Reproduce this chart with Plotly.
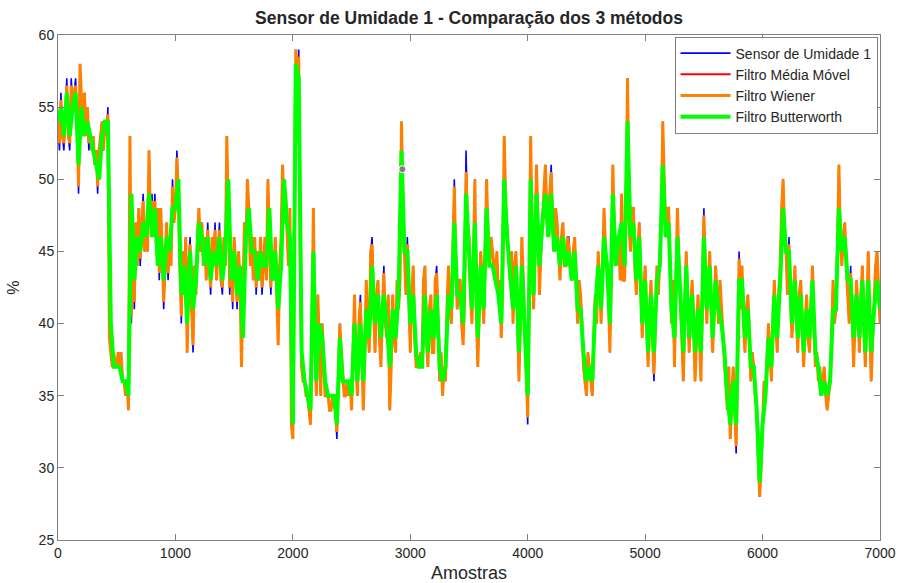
import plotly.graph_objects as go

# Amostras (eixo x)
amostras = [i * 12.5 for i in range(561)]      # sensor e Wiener
amostras_filtro = list(range(0, 7001, 25))      # Média Móvel e Butterworth

sensor = [
    54, 52, 56, 53, 52, 55, 57, 53, 52, 57, 55, 56, 57, 54, 49, 57, 55, 53, 56, 53,
    55, 52, 53, 52, 53, 51, 52, 49, 52, 53, 54, 52, 54, 53, 55, 39, 38, 37, 38, 37,
    37, 38, 37, 38, 36, 36, 35, 36, 34, 53, 40, 46, 41, 47, 44, 48, 44, 47, 49, 45,
    47, 45, 52, 47, 49, 46, 49, 45, 48, 43, 48, 45, 41, 44, 47, 43, 46, 44, 50, 47,
    48, 52, 49, 44, 40, 45, 42, 46, 38, 44, 46, 41, 38, 44, 42, 46, 48, 45, 47, 44,
    46, 43, 47, 44, 42, 46, 44, 47, 43, 45, 47, 43, 42, 46, 44, 53, 46, 42, 45, 41,
    46, 43, 41, 45, 43, 37, 42, 47, 45, 50, 48, 44, 46, 43, 46, 42, 45, 43, 46, 42,
    44, 46, 43, 50, 46, 42, 45, 43, 46, 42, 39, 44, 46, 51, 48, 49, 47, 44, 48, 33,
    32, 50, 59, 56, 59, 45, 37, 36, 36, 35, 35, 34, 33, 40, 48, 38, 35, 42, 38, 35,
    40, 37, 35, 35, 35, 34, 34, 35, 35, 34, 32, 36, 40, 38, 36, 35, 35, 36, 35, 36,
    34, 38, 42, 37, 35, 40, 42, 38, 34, 38, 43, 40, 38, 45, 46, 41, 38, 42, 43, 39,
    37, 41, 44, 40, 39, 42, 34, 37, 42, 39, 38, 43, 41, 43, 54, 48, 45, 42, 46, 41,
    38, 42, 44, 39, 37, 37, 37, 38, 37, 43, 44, 39, 37, 41, 42, 38, 38, 43, 44, 40,
    36, 38, 35, 37, 36, 41, 44, 41, 40, 45, 50, 44, 41, 43, 43, 40, 39, 42, 52, 47,
    46, 42, 40, 44, 50, 41, 37, 41, 45, 43, 40, 45, 50, 46, 44, 46, 45, 44, 43, 45,
    42, 43, 39, 44, 53, 48, 47, 45, 43, 45, 40, 44, 45, 41, 36, 40, 46, 43, 40, 37,
    33, 42, 53, 46, 41, 46, 51, 47, 42, 45, 47, 49, 51, 48, 46, 49, 51, 47, 45, 48,
    47, 45, 43, 46, 47, 44, 44, 46, 46, 44, 43, 45, 46, 43, 40, 43, 42, 40, 37, 36,
    35, 38, 37, 36, 35, 39, 42, 40, 45, 43, 40, 44, 48, 45, 44, 42, 38, 44, 51, 46,
    44, 46, 46, 43, 49, 43, 43, 48, 57, 47, 45, 48, 48, 44, 42, 45, 47, 43, 39, 42,
    44, 40, 37, 41, 43, 39, 36, 40, 44, 42, 44, 47, 54, 49, 46, 48, 48, 44, 40, 43,
    37, 43, 48, 44, 42, 39, 36, 41, 45, 41, 38, 41, 43, 40, 36, 39, 42, 39, 36, 42,
    48, 44, 40, 43, 45, 41, 38, 41, 44, 42, 40, 43, 41, 39, 37, 36, 34, 37, 32, 35,
    37, 34, 31, 38, 45, 41, 44, 40, 38, 41, 42, 39, 36, 38, 37, 35, 34, 31, 28, 30,
    33, 36, 35, 38, 40, 38, 36, 40, 43, 40, 38, 42, 44, 48, 50, 46, 45, 42, 46, 42,
    39, 41, 44, 41, 38, 42, 43, 40, 37, 40, 42, 39, 38, 41, 44, 40, 37, 38, 36, 37,
    35, 36, 37, 35, 34, 35, 36, 39, 43, 40, 41, 45, 51, 46, 44, 46, 47, 44, 42, 40,
    44, 41, 37, 40, 43, 41, 38, 42, 44, 40, 37, 41, 45, 40, 36, 39, 42, 44, 45, 42,
    40,
]

wiener = [
    54, 52.5, 55.5, 53, 52.5, 55, 56.5, 53, 52.5, 56.5, 55, 56, 56.5, 54, 49.5, 58, 55, 53, 56, 53,
    55, 52.5, 53, 52, 53, 51, 52, 49.5, 52, 53, 54, 52, 54, 53, 54.5, 39, 38, 37, 38, 37,
    37, 38, 37, 38, 36, 36, 35, 36, 34, 53, 40.5, 46, 41.5, 47, 44, 48, 44.5, 47, 48.5, 45,
    47, 45, 52, 47, 48.5, 46, 48.5, 45.5, 48, 43.5, 48, 45, 41.5, 44, 47, 43.5, 46, 44, 49.5, 47,
    48, 51.5, 49, 44, 40.5, 45, 42, 46, 38, 44, 45.5, 41, 38.5, 44, 42, 46, 48, 45, 47, 44,
    46, 43, 46.5, 44, 42.5, 46, 44, 46.5, 43, 45, 46.5, 43, 42.5, 46, 44, 53, 46, 42.5, 45, 41.5,
    46, 43, 41.5, 45, 43, 37, 42, 47, 45, 50, 48, 44, 46, 43, 46, 42.5, 45, 43, 46, 42.5,
    44, 46, 43, 50, 46, 42.5, 45, 43, 46, 42.5, 38.5, 44, 46, 51, 48, 49, 47, 44, 48, 33,
    32, 50, 59, 56, 58.5, 45, 37, 36, 36, 35, 35, 34, 33, 40, 48, 38, 35, 42, 38, 35,
    40, 37, 35, 35, 35, 34, 34, 35, 35, 34, 32.5, 36, 40, 38, 36, 35, 35, 36, 35, 36,
    34, 38, 42, 37, 35, 40, 41.5, 38, 34, 38, 43, 40, 38, 45, 45.5, 41, 38, 42, 43, 39,
    37, 41, 43.5, 40, 39, 42, 34, 37, 42, 39, 38, 43, 41, 43, 54, 48, 45, 42, 45.5, 41,
    38, 42, 44, 39, 37, 37, 37, 38, 37, 43, 44, 39, 37, 41, 42, 38, 38, 43, 43.5, 40,
    36, 38, 35, 37, 36, 41, 44, 41, 40, 45, 49.5, 44, 41, 43, 43, 40, 38.5, 42, 50.5, 47,
    46, 42, 40, 44, 50, 41, 37, 41, 45, 43, 40, 45, 50, 46, 44, 46, 45, 44, 43, 45,
    42, 43, 39, 44, 53, 48, 46.5, 45, 43, 45, 40, 44, 45, 41, 36, 40, 46, 43, 40, 37,
    33.5, 42, 53, 46, 41, 46, 51, 47, 42, 45, 47, 49, 51, 48, 46, 49, 50.5, 47, 45, 48,
    47, 45, 43, 46, 47, 44, 44, 46, 45.5, 44, 43, 45, 46, 43, 40, 43, 42, 40, 37, 36,
    35, 38, 37, 36, 35, 39, 42, 40, 45, 43, 40, 44, 48, 45, 44, 42, 38, 44, 51, 46,
    44, 46, 46, 43, 49, 43, 43, 48, 57, 47, 45, 48, 48, 44, 42, 45, 47, 43, 39, 42,
    44, 40, 37, 41, 43, 39, 36.5, 40, 44, 42, 44, 47, 54, 49, 46, 48, 48, 44, 40, 43,
    37, 43, 48, 44, 42, 39, 36, 41, 45, 41, 38, 41, 43, 40, 36, 39, 42, 39, 36, 42,
    47.5, 44, 40, 43, 45, 41, 38, 41, 44, 42, 40, 43, 41, 39, 37, 36, 34, 37, 32, 35,
    37, 34, 31.5, 38, 44.5, 41, 44, 40, 38, 41, 42, 39, 36, 38, 37, 35, 34, 31, 28, 30,
    33, 36, 35, 38, 40, 38, 36, 40, 43, 40, 38, 42, 44, 48, 50, 46, 45, 42, 45.5, 42,
    39, 41, 44, 41, 38, 42, 43, 40, 37, 40, 42, 39, 38, 41, 44, 40, 37, 38, 36, 37,
    35, 36, 37, 35, 34, 35, 36, 39, 43, 40, 41, 45, 51, 46, 44, 46, 47, 44, 42, 40,
    43.5, 41, 37, 40, 43, 41, 38, 42, 44, 40, 37, 41, 45, 40, 36, 39, 42, 44, 45, 42,
    40,
]

media_movel = [
    54, 55, 53, 56, 53, 55, 56, 51, 55, 53, 54, 53, 52, 51, 50, 53, 54, 54, 40, 37,
    37, 37, 36, 36, 35, 49, 43, 46, 45, 47, 46, 49, 46, 48, 44, 46, 43, 46, 45, 48,
    48, 50, 42, 44, 40, 45, 41, 43, 47, 46, 44, 46, 43, 45, 44, 46, 43, 45, 50, 43,
    45, 42, 44, 39, 46, 48, 45, 45, 43, 45, 44, 44, 48, 43, 45, 41, 44, 50, 47, 46,
    33, 58, 57, 38, 36, 35, 34, 45, 36, 40, 39, 36, 35, 35, 35, 33, 39, 36, 36, 36,
    35, 40, 36, 40, 36, 41, 39, 44, 40, 42, 39, 42, 40, 37, 41, 39, 42, 52, 45, 45,
    40, 42, 38, 37, 37, 42, 38, 41, 39, 42, 37, 36, 37, 42, 41, 47, 42, 42, 40, 49,
    45, 41, 47, 39, 44, 41, 48, 44, 44, 43, 42, 40, 50, 46, 43, 41, 44, 38, 44, 40,
    35, 50, 42, 49, 44, 47, 49, 46, 49, 45, 46, 44, 46, 44, 45, 43, 45, 41, 41, 38,
    36, 37, 36, 41, 44, 41, 46, 44, 40, 49, 44, 46, 47, 44, 54, 46, 47, 43, 46, 40,
    43, 38, 42, 38, 43, 44, 51, 46, 47, 41, 39, 46, 42, 38, 44, 39, 42, 38, 41, 38,
    46, 41, 44, 39, 43, 41, 40, 38, 35, 33, 36, 33, 43, 43, 39, 41, 37, 37, 34, 29,
    33, 35, 39, 37, 42, 39, 43, 48, 45, 45, 40, 43, 39, 42, 38, 41, 39, 43, 38, 37,
    35, 36, 35, 36, 41, 41, 48, 45, 46, 43, 43, 39, 42, 39, 43, 38, 43, 38, 41, 43,
    41,
]

butterworth = [
    54, 55, 53, 56, 53, 55, 56, 51, 55, 53, 54, 53, 52, 51, 50, 53, 54, 54, 40, 37,
    37, 37, 36, 36, 35, 49, 43, 46, 45, 47, 46, 49, 46, 48, 44, 46, 43, 46, 45, 48,
    48, 50, 42, 44, 40, 45, 41, 43, 47, 46, 44, 46, 43, 45, 44, 46, 43, 45, 50, 43,
    45, 42, 44, 39, 46, 48, 45, 45, 43, 45, 44, 44, 48, 43, 45, 41, 44, 50, 47, 46,
    33, 58, 57, 38, 36, 35, 34, 45, 36, 40, 39, 36, 35, 35, 35, 33, 39, 36, 36, 36,
    35, 40, 36, 40, 36, 41, 39, 44, 40, 42, 39, 42, 40, 37, 41, 39, 42, 52, 45, 45,
    40, 42, 38, 37, 37, 42, 38, 41, 39, 42, 37, 36, 37, 42, 41, 47, 42, 42, 40, 49,
    45, 41, 47, 39, 44, 41, 48, 44, 44, 43, 42, 40, 50, 46, 43, 41, 44, 38, 44, 40,
    35, 50, 42, 49, 44, 47, 49, 46, 49, 45, 46, 44, 46, 44, 45, 43, 45, 41, 41, 38,
    36, 37, 36, 41, 44, 41, 46, 44, 40, 49, 44, 46, 47, 44, 54, 46, 47, 43, 46, 40,
    43, 38, 42, 38, 43, 44, 51, 46, 47, 41, 39, 46, 42, 38, 44, 39, 42, 38, 41, 38,
    46, 41, 44, 39, 43, 41, 40, 38, 35, 33, 36, 33, 43, 43, 39, 41, 37, 37, 34, 29,
    33, 35, 39, 37, 42, 39, 43, 48, 45, 45, 40, 43, 39, 42, 38, 41, 39, 43, 38, 37,
    35, 36, 35, 36, 41, 41, 48, 45, 46, 43, 43, 39, 42, 39, 43, 38, 43, 38, 41, 43,
    41,
]

# Marcador (data tip) em cinza
marcador_x = [2933]
marcador_y = [50.7]

FONT = "Liberation Sans, Arial, sans-serif"

fig = go.Figure()
fig.add_trace(go.Scatter(x=amostras, y=sensor, mode="lines", name="Sensor de Umidade 1",
                         line=dict(color="#0000FF", width=1.6)))
fig.add_trace(go.Scatter(x=amostras_filtro, y=media_movel, mode="lines", name="Filtro Média Móvel",
                         line=dict(color="#FF0000", width=2)))
fig.add_trace(go.Scatter(x=amostras, y=wiener, mode="lines", name="Filtro Wiener",
                         line=dict(color="#FF7F00", width=3)))
fig.add_trace(go.Scatter(x=amostras_filtro, y=butterworth, mode="lines", name="Filtro Butterworth",
                         line=dict(color="#00FF00", width=4)))
fig.add_trace(go.Scatter(x=marcador_x, y=marcador_y, mode="markers", showlegend=False,
                         marker=dict(color="#7F7F7F", size=7,
                                     line=dict(color="#FFFFFF", width=1))))

axis_common = dict(
    showline=True, linecolor="#808080", linewidth=1, mirror="ticks",
    ticks="inside", ticklen=6, tickcolor="#808080",
    showgrid=False, zeroline=False, automargin=False,
    tickfont=dict(family=FONT, size=14, color="#262626"),
)

fig.update_layout(
    width=899, height=583,
    margin=dict(l=58, r=19, t=35, b=43),
    paper_bgcolor="white", plot_bgcolor="white",
    title=dict(text="<b>Sensor de Umidade 1 - Comparação dos 3 métodos</b>",
               x=0.5, xref="paper", xanchor="center", y=0.969, yanchor="middle",
               font=dict(family=FONT, size=17.5, color="#262626")),
    xaxis=dict(range=[0, 7000], tickvals=[0, 1000, 2000, 3000, 4000, 5000, 6000, 7000],
               title=dict(text="Amostras", font=dict(family=FONT, size=18, color="#262626")),
               **axis_common),
    yaxis=dict(range=[25, 60], tickvals=[25, 30, 35, 40, 45, 50, 55, 60],
               title=dict(text="%", font=dict(family=FONT, size=16, color="#262626")),
               **axis_common),
    legend=dict(x=0.997, y=0.997, xanchor="right", yanchor="top",
                bgcolor="white", bordercolor="#808080", borderwidth=1,
                font=dict(family=FONT, size=14, color="#262626"),
                itemwidth=50, tracegroupgap=0),
    showlegend=True,
)

fig.write_html("out.html")
